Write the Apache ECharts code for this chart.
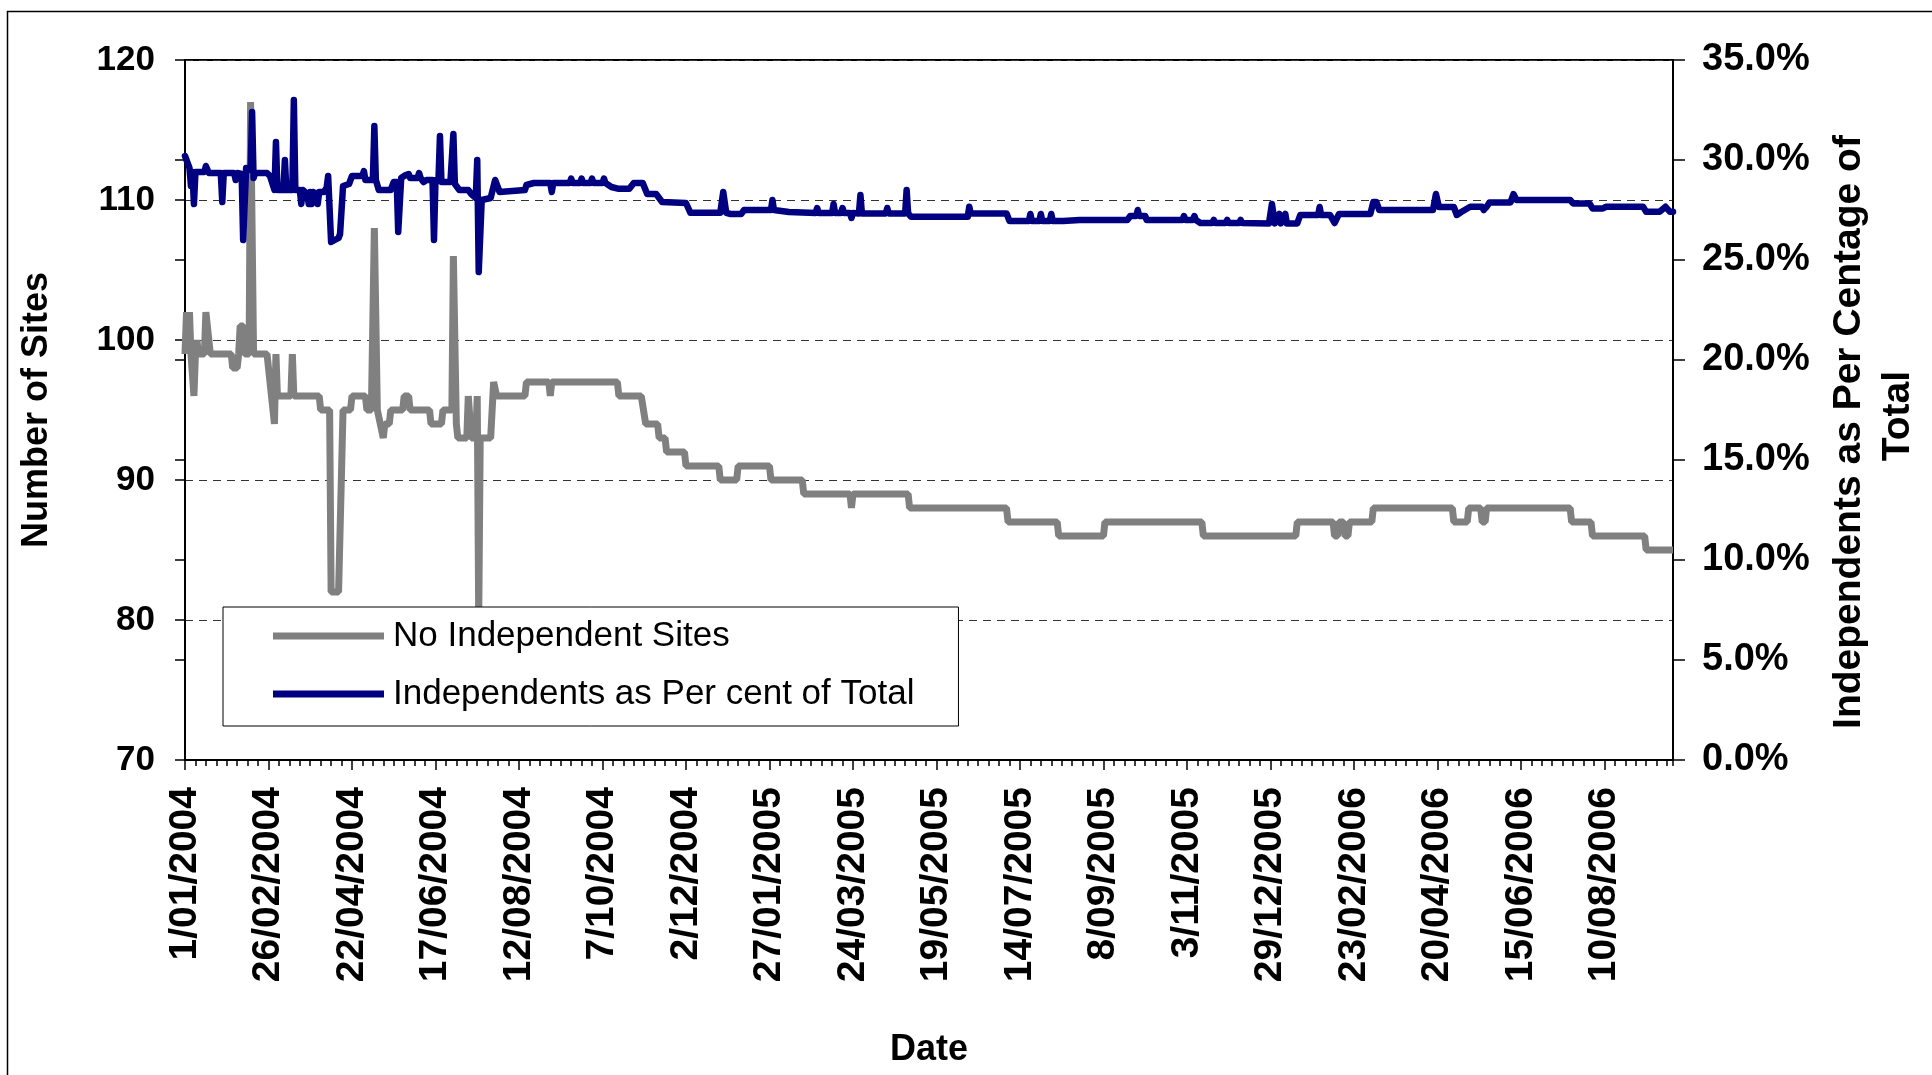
<!DOCTYPE html>
<html>
<head>
<meta charset="utf-8">
<script src="https://cdn.jsdelivr.net/npm/echarts/dist/echarts.min.js"></script>
<style>
html,body{margin:0;padding:0;background:#fff;}
#chart{width:1932px;height:1075px;}
</style>
</head>
<body>
<div id="chart"></div>
<script>
// x positions are day offsets from 1/01/2004
const dateLabels = ['1/01/2004','26/02/2004','22/04/2004','17/06/2004','12/08/2004','7/10/2004','2/12/2004',
  '27/01/2005','24/03/2005','19/05/2005','14/07/2005','8/09/2005','3/11/2005','29/12/2005',
  '23/02/2006','20/04/2006','15/06/2006','10/08/2006'];
const labelStepDays = 56;
const lastDay = 998;

const siteDays = [0,1,2,3,4,5,6,7,8,9,13,14,15,17,31,32,35,36,37,39,40,43,44,46,55,56,60,61,62,71,72,73,90,91,97,98,103,106,111,112,121,122,125,127,129,133,134,137,138,146,147,150,151,164,165,172,173,179,180,182,183,189,190,191,192,195,196,197,198,205,207,209,228,229,244,245,246,290,291,306,309,317,318,322,323,335,336,358,359,370,371,392,393,414,415,446,447,448,485,486,551,552,585,586,616,617,682,683,745,746,770,771,773,774,777,778,780,781,796,797,850,851,860,861,869,870,872,873,929,930,943,944,979,980,998];
const siteCounts = [99,102,99,102,99,99,96,99,100,99,99,102,102,99,99,98,98,99,101,101,99,99,117,99,99,98,94,99,96,96,99,96,96,95,95,82,82,95,95,96,96,95,95,108,95,93,94,94,95,95,96,96,95,95,94,94,95,95,106,94,93,93,96,96,93,93,96,80,93,93,97,96,96,97,97,96,97,97,96,96,94,94,93,93,92,92,91,91,90,90,91,91,90,90,89,89,88,89,89,88,88,87,87,86,86,87,87,86,86,87,87,86,86,87,87,86,86,87,87,88,88,87,87,88,88,87,87,88,88,87,87,86,86,85,85];

const pctDays = [0,3,4,5,6,7,13,14,16,24,25,26,33,34,35,38,39,41,44,45,46,47,55,57,60,61,62,66,67,68,72,73,74,77,78,79,82,83,84,85,86,88,89,90,93,95,96,98,103,104,106,110,112,119,120,121,126,127,128,130,138,140,142,143,145,148,150,151,156,157,158,160,162,166,167,168,170,171,172,178,179,180,181,184,190,192,195,196,197,199,205,208,211,228,229,234,245,246,247,258,259,260,265,266,267,272,273,274,280,281,282,286,291,298,301,307,310,316,320,336,339,359,361,363,366,373,375,393,394,395,405,423,424,425,434,435,436,440,441,442,446,447,448,452,453,454,470,471,472,483,484,485,487,525,526,527,551,553,566,567,568,573,574,575,580,581,582,589,590,600,632,634,638,639,640,644,645,669,670,671,676,677,678,681,689,690,691,698,699,700,707,708,709,727,729,731,734,735,738,739,746,748,760,761,762,768,771,774,795,797,799,801,837,839,841,851,853,856,862,870,871,873,875,889,891,893,929,931,942,944,951,953,978,980,989,993,996,998];
const pctValues = [30.2,29.6,28.7,29.4,27.8,29.4,29.4,29.7,29.35,29.35,27.9,29.35,29.35,29.0,29.35,29.3,26.0,29.6,29.5,32.4,29.1,29.35,29.35,29.2,28.5,30.9,28.5,28.5,30.0,28.5,28.5,33.0,28.5,28.5,27.8,28.5,28.3,27.8,28.4,27.8,28.4,28.3,27.8,28.4,28.4,28.6,29.2,25.9,26.1,26.3,28.7,28.8,29.2,29.2,29.45,29.0,29.0,31.7,29.0,28.5,28.5,28.9,28.9,26.4,29.1,29.25,29.3,29.1,29.1,29.35,29.1,28.9,29.0,29.0,26.0,29.0,29.0,31.2,28.9,28.9,29.0,31.3,28.8,28.5,28.5,28.3,28.1,30.0,24.4,28.0,28.1,29.0,28.4,28.5,28.75,28.85,28.85,28.4,28.85,28.85,29.07,28.85,28.85,29.07,28.85,28.85,29.07,28.85,28.85,29.07,28.85,28.65,28.56,28.56,28.85,28.85,28.3,28.3,27.9,27.85,27.36,27.36,28.4,27.36,27.3,27.3,27.5,27.5,28.0,27.5,27.4,27.35,27.6,27.35,27.35,27.8,27.35,27.35,27.6,27.35,27.35,27.1,27.35,27.33,28.25,27.33,27.33,27.6,27.33,27.33,28.5,27.33,27.16,27.16,27.66,27.33,27.33,26.95,26.95,27.3,26.95,26.95,27.3,26.95,26.95,27.3,26.95,26.95,26.85,27.0,27.0,27.2,27.2,27.5,27.2,27.2,27.0,27.0,27.2,27.0,27.0,27.2,27.0,26.85,26.85,27.0,26.85,26.85,27.0,26.85,26.85,27.0,26.85,26.83,27.8,26.83,27.3,26.83,27.3,26.83,26.83,27.25,27.25,27.65,27.25,27.25,26.85,27.3,27.3,27.9,27.9,27.5,27.5,28.3,27.65,27.65,27.25,27.4,27.66,27.66,27.5,27.66,27.88,27.88,28.3,28.0,28.0,27.83,27.83,27.58,27.58,27.66,27.66,27.41,27.41,27.66,27.41,27.41];

const seriesNames = ['No Independent Sites', 'Independents as Per cent of Total'];

const FONT = "'Liberation Sans', Arial, Helvetica, sans-serif";
const chart = echarts.init(document.getElementById('chart'), null, {renderer: 'canvas'});

const boldLabel = (size) => ({fontFamily: FONT, fontSize: size, fontWeight: 'bold', color: '#000'});

const option = {
  animation: false,
  backgroundColor: '#fff',
  textStyle: {fontFamily: FONT},
  graphic: [{
    type: 'rect', silent: true, z: -10,
    shape: {x: 7.5, y: 11.5, width: 2100, height: 2100},
    style: {fill: 'none', stroke: '#000', lineWidth: 1.5}
  }],
  grid: {
    left: 185, top: 60, width: 1488, height: 700,
    show: true, borderColor: '#000', borderWidth: 2, backgroundColor: 'transparent',
    containLabel: false, outerBoundsMode: 'none'
  },
  legend: {
    data: seriesNames,
    orient: 'vertical', left: 223, top: 607,
    padding: [9, 44, 12, 50], itemGap: 18,
    itemWidth: 111, itemHeight: 7, icon: 'rect',
    backgroundColor: '#fff', borderColor: '#000', borderWidth: 1,
    selectedMode: false,
    textStyle: {fontFamily: FONT, fontSize: 35, color: '#000', lineHeight: 40, padding: [0, 0, 0, 4]}
  },
  xAxis: [{
    type: 'value', min: 0, max: lastDay, interval: labelStepDays, position: 'bottom',
    axisLine: {show: true, onZero: false, lineStyle: {color: '#000', width: 2}},
    axisTick: {show: true, length: 10, lineStyle: {color: '#000', width: 1.5}},
    splitLine: {show: false},
    axisLabel: Object.assign(boldLabel(39), {
      rotate: 90, margin: 27, showMaxLabel: false,
      formatter: function (v) {
        const i = Math.round(v / labelStepDays);
        return (Math.abs(v - i * labelStepDays) < 1e-6 && dateLabels[i]) ? dateLabels[i] : '';
      }
    }),
    name: 'Date', nameLocation: 'middle', nameGap: 272, nameMoveOverlap: false,
    nameTextStyle: boldLabel(36)
  }, {
    type: 'value', min: 0, max: lastDay, interval: 7, position: 'bottom',
    axisLine: {show: false},
    axisTick: {show: true, length: 6, lineStyle: {color: '#000', width: 1.5}},
    axisLabel: {show: false}, splitLine: {show: false}
  }],
  yAxis: [{
    type: 'value', min: 70, max: 120, interval: 10, position: 'left',
    axisLine: {show: true, onZero: false, lineStyle: {color: '#000', width: 2}},
    axisTick: {show: true, length: 10, lineStyle: {color: '#000', width: 1.5}},
    axisLabel: Object.assign(boldLabel(35), {margin: 30}),
    splitLine: {show: true, lineStyle: {color: '#333', width: 1, type: [8, 6]}},
    name: 'Number of Sites', nameLocation: 'middle', nameRotate: 90, nameGap: 130, nameMoveOverlap: false,
    nameTextStyle: boldLabel(36)
  }, {
    type: 'value', min: 0, max: 35, interval: 5, position: 'right',
    axisLine: {show: true, onZero: false, lineStyle: {color: '#000', width: 2}},
    axisTick: {show: true, length: 12, lineStyle: {color: '#000', width: 1.5}},
    axisLabel: Object.assign(boldLabel(38), {margin: 29, formatter: v => v.toFixed(1) + '%'}),
    splitLine: {show: false},
    name: '{a|Independents as Per Centage of}\n{b|Total}', nameLocation: 'middle', nameRotate: 90, nameGap: 152, nameMoveOverlap: false,
    nameTextStyle: Object.assign(boldLabel(39), {
      lineHeight: 49, align: 'center',
      rich: {
        a: Object.assign(boldLabel(39), {lineHeight: 49, padding: [0, 44, 0, 0]}),
        b: Object.assign(boldLabel(39), {lineHeight: 49, padding: [0, 12, 0, 0]})
      }
    })
  }, {
    type: 'value', min: 0, max: 35, interval: 5, position: 'right',
    axisLine: {show: false},
    axisTick: {show: true, inside: true, length: 10, lineStyle: {color: '#000', width: 1.5}},
    axisLabel: {show: false}, splitLine: {show: false}
  }],
  series: [{
    name: seriesNames[0], type: 'line', xAxisIndex: 0, yAxisIndex: 0,
    data: siteDays.map((d, i) => [d, siteCounts[i]]),
    symbol: 'none', color: '#808080',
    lineStyle: {color: '#808080', width: 7},
    z: 2
  }, {
    name: seriesNames[1], type: 'line', xAxisIndex: 0, yAxisIndex: 1,
    data: pctDays.map((d, i) => [d, pctValues[i]]),
    symbol: 'none', color: '#000080',
    lineStyle: {color: '#000080', width: 6.5, join: 'round', cap: 'round'},
    z: 3
  }]
};
chart.setOption(option);
</script>
</body>
</html>
